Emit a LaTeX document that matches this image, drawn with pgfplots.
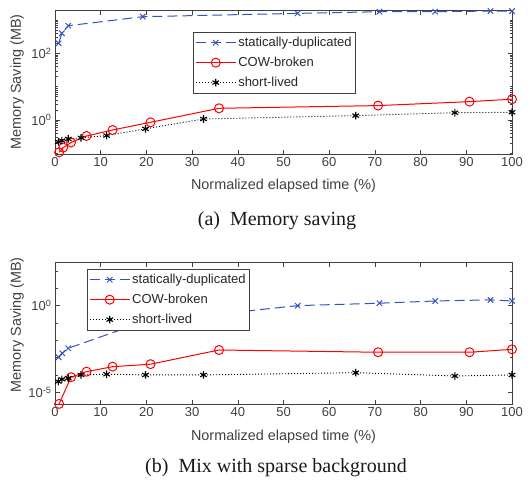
\documentclass[border=0pt]{standalone}
\usepackage{fontspec}
\setmainfont{Liberation Serif}
\setsansfont{Liberation Sans}
\usepackage{pgfplots}
\pgfplotsset{compat=1.18}
\definecolor{axgray}{gray}{0.25}
\definecolor{mblue}{rgb}{0.2,0.32,0.74}
\definecolor{mred}{rgb}{1,0,0}

\pgfplotsset{
 mstyle/.style={
   scale only axis, width=457pt,
   xmin=0, xmax=100,
   xtick={0,10,...,100},
   axis line style={axgray, line width=0.5pt},
   every tick/.style={axgray, line width=0.5pt},
   tick align=inside,
   major tick length=4.5pt, minor tick length=2.5pt,
   tick label style={font=\sffamily\fontsize{13}{13}\selectfont, text=axgray},
   label style={font=\sffamily\fontsize{14.4}{14.4}\selectfont, text=axgray},
   /pgf/number format/assume math mode=true,
   clip=false,
   legend style={font=\sffamily\fontsize{13}{15}\selectfont, draw=axgray, fill=white, line width=0.5pt, text=black!85, anchor=north west, inner xsep=2pt, inner ysep=3pt, row sep=5pt, cells={anchor=west}},
   legend image code/.code={\draw[mark repeat=2,mark phase=2,##1] plot coordinates {(0pt,0pt) (20pt,0pt) (40pt,0pt)};},
   xlabel={Normalized elapsed time (\%)},
   ylabel={Memory Saving (MB)},
 },
 sdup/.style={mblue, line width=1pt, dash pattern=on 10pt off 5pt, mark=x, mark size=3.8pt, mark options={solid, line width=1pt}},
 cow/.style={mred, line width=1pt, mark=o, mark size=4.5pt, mark options={solid}},
 short/.style={black, line width=0.9pt, dash pattern=on 1pt off 2pt, mark=asterisk, mark size=3.8pt, mark options={solid, line width=1.1pt}},
}

\begin{document}
\begin{tikzpicture}
\path[use as bounding box] (0pt,0pt) rectangle (530pt,-485pt);

% ---------------- (a) ----------------
\begin{semilogyaxis}[mstyle,
  at={(55pt,-154pt)}, anchor=south west, height=144pt,
  ymin=0.095, ymax=2000,
  ytick={1,100}, yticklabels={10\textsuperscript{0},10\textsuperscript{2}},
  minor ytick={0.1,0.2,0.3,0.4,0.5,0.6,0.7,0.8,0.9,2,3,4,5,6,7,8,9,10,20,30,40,50,60,70,80,90,200,300,400,500,600,700,800,900,1000,2000},
  xlabel style={at={(axis description cs:0.5,-0.222)}, anchor=center},
  ylabel style={at={(axis description cs:-0.083,0.5)}, anchor=center},
  legend style={at={(0.302,0.847)}},
]
\addplot[sdup] coordinates {(0.8,200) (1.5,400) (2.9,675) (19.2,1260) (53.1,1585) (71,1780) (83.2,1780) (95.3,1860) (100,1860)};
\addlegendentry{statically-duplicated}
\addplot[cow] coordinates {(0.9,0.107) (1.8,0.148) (3.5,0.21) (6.9,0.33) (12.6,0.5) (20.9,0.85) (35.9,2.24) (70.7,2.7) (90.7,3.55) (100,4.2)};
\addlegendentry{COW-broken}
\addplot[short] coordinates {(0.73,0.22) (1.5,0.24) (2.9,0.27) (5.7,0.29) (11.3,0.34) (19.8,0.54) (32.5,1.07) (65.8,1.35) (87.5,1.65) (100,1.7)};
\addlegendentry{short-lived}
\end{semilogyaxis}

% ---------------- (b) ----------------
\begin{semilogyaxis}[mstyle,
  at={(55pt,-404pt)}, anchor=south west, height=141.3pt,
  ymin=2.1e-6, ymax=300,
  ytick={1e-5,1}, yticklabels={10\textsuperscript{-5},10\textsuperscript{0}},
  minor ytick={1e-4,1e-3,1e-2,1e-1,10,100},
  xlabel style={at={(axis description cs:0.5,-0.233)}, anchor=center},
  ylabel style={at={(axis description cs:-0.083,0.56)}, anchor=center},
  legend style={at={(0.07,0.955)}},
]
\addplot[sdup] coordinates {(0.8,1.05e-3) (1.6,1.78e-3) (2.9,3.47e-3) (19.2,0.112) (53.1,1.0) (71,1.38) (83.2,1.86) (95.3,2.14) (100,1.86)};
\addlegendentry{statically-duplicated}
\addplot[cow] coordinates {(0.9,2.14e-6) (3.5,7.4e-5) (6.9,1.55e-4) (12.6,3.0e-4) (20.9,4.17e-4) (35.9,2.75e-3) (70.7,2.04e-3) (90.7,2.04e-3) (100,3.0e-3)};
\addlegendentry{COW-broken}
\addplot[short] coordinates {(0.73,4.17e-5) (1.5,5.6e-5) (2.9,6.5e-5) (5.7,1e-4) (11.3,1.1e-4) (19.8,1e-4) (32.5,1e-4) (65.8,1.35e-4) (87.5,8.7e-5) (100,1e-4)};
\addlegendentry{short-lived}
\end{semilogyaxis}

\node[font=\fontsize{20}{20}\selectfont, anchor=base, text=black!90] at (277pt,-225pt) {(a)\hspace{0.5em}Memory saving};
\node[font=\fontsize{20}{20}\selectfont, anchor=base, text=black!90] at (276pt,-472pt) {(b)\hspace{0.5em}Mix with sparse background};
\end{tikzpicture}
\end{document}
